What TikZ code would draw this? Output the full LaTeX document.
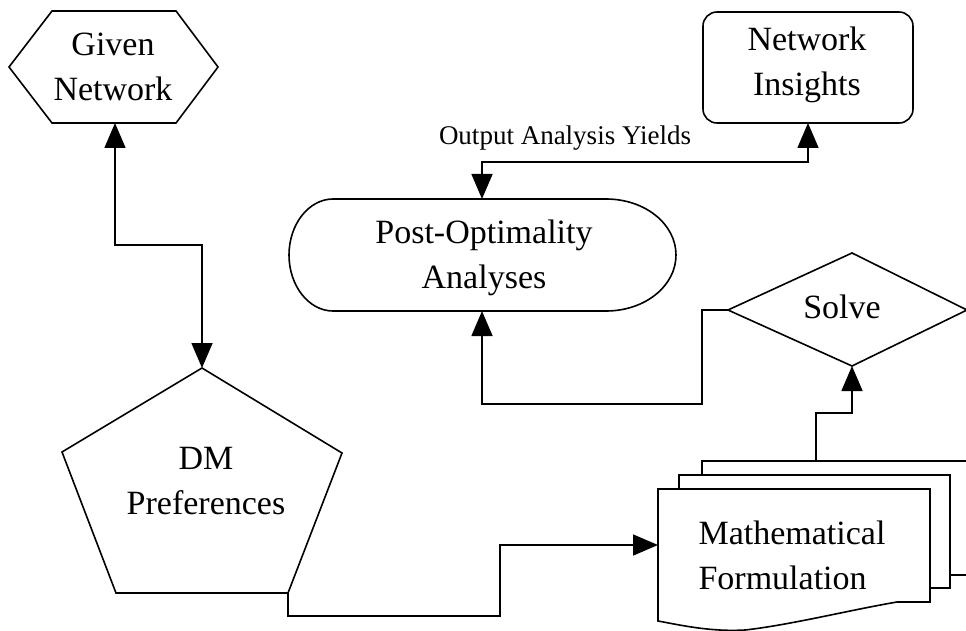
\documentclass[tikz,border=0pt]{standalone}
\usepackage{fontspec}
\setmainfont{Liberation Serif}
\usetikzlibrary{arrows.meta}
\begin{document}
\begin{tikzpicture}[x=1pt,y=-1pt,
  outline/.style={line width=1.6pt, line join=miter, fill=white},
  link/.style={line width=1.6pt},
  onetip/.style={link, -{Triangle[length=25pt,width=21pt]}},
  twotips/.style={link, {Triangle[length=25pt,width=21pt]}-{Triangle[length=25pt,width=21pt]}},
  boxtext/.style={font=\fontsize{34}{45}\selectfont, align=center, inner sep=0pt},
  labeltext/.style={font=\fontsize{27}{32}\selectfont, inner sep=0pt}]
\useasboundingbox (0,0) rectangle (966,631);

% Given Network (hexagon)
\draw[outline] (9,67) -- (52,11) -- (176,11) -- (218,67) -- (176,123) -- (52,123) -- cycle;
\node[boxtext] (gn) at (113,67) {Given\\Network};
\coordinate (gn-s) at (115,123);

% DM Preferences (pentagon)
\draw[outline] (202,368) -- (342,453) -- (288,593) -- (116,593) -- (62,452) -- cycle;
\node[boxtext] (dm) at (206,481) {DM\\Preferences};
\coordinate (dm-n) at (202,368);
\coordinate (dm-se) at (288,593);

% Network Insights (rounded box)
\draw[outline, rounded corners=14pt] (703,12) rectangle (913,123);
\node[boxtext] (ni) at (807,65) {Network\\Insights};
\coordinate (ni-s) at (808,123);

% Post-Optimality Analyses (terminal)
\draw[outline] (333,199) -- (606,199)
  .. controls (645,199) and (676,224) .. (676,255)
  .. controls (676,286) and (645,311) .. (606,311)
  -- (333,311)
  .. controls (309,311) and (289,286) .. (289,255)
  .. controls (289,224) and (309,199) .. (333,199) -- cycle;
\node[boxtext] (po) at (484,258) {Post-Optimality\\Analyses};
\coordinate (po-n) at (482,199);
\coordinate (po-s) at (482,311);

% Solve (decision)
\draw[outline] (852,253) -- (967,310) -- (852,366) -- (728,310) -- cycle;
\node[boxtext] (sv) at (842,307) {Solve};
\coordinate (sv-w) at (728,310);
\coordinate (sv-s) at (852,366);

% Mathematical Formulation (stacked documents)
\draw[outline] (702,461) rectangle (995,575);
\draw[outline] (679,475) rectangle (950,588);
\draw[outline] (658,489) -- (930,489) -- (930,602) -- (897,602)
  .. controls (850,610) and (790,625) .. (745,630)
  .. controls (710,632) and (680,625) .. (658,621) -- cycle;
\node[boxtext, align=left] (mf) at (792,555) {Mathematical\\Formulation};
\coordinate (mf-w) at (658,545);
\coordinate (mf-n) at (816,461);

% Connectors
\draw[twotips] (gn-s) -- ++(0,122) -| (dm-n);
\draw[twotips] (po-n) -- ++(0,-37) -| (ni-s);
\node[labeltext] (yields) at (565,138) {Output Analysis Yields};
\draw[onetip] (sv-w) -- ++(-26,0) -- ++(0,94) -| (po-s);
\draw[onetip] (dm-se) -- ++(0,23) -- ++(212,0) |- (mf-w);
\draw[onetip] (mf-n) -- ++(0,-48) -| (sv-s);
\end{tikzpicture}
\end{document}
